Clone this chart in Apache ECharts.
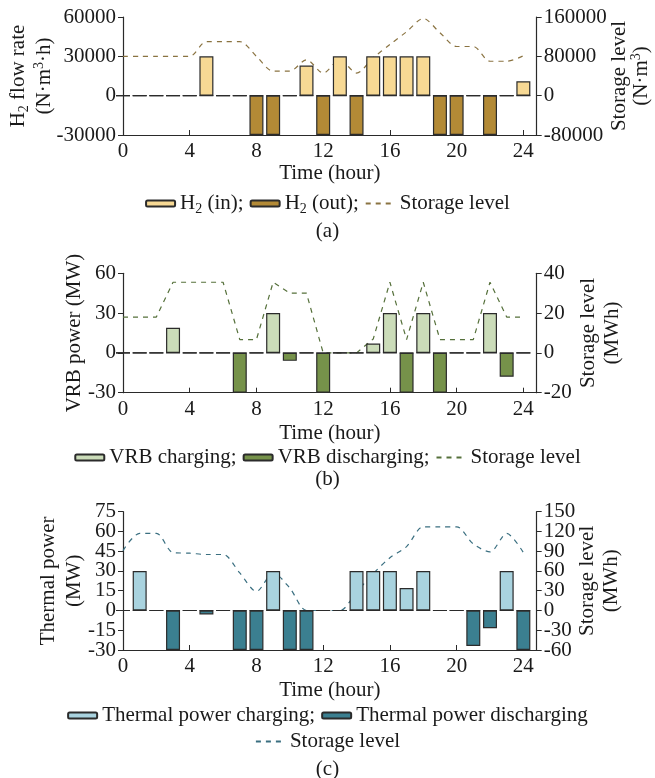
<!DOCTYPE html>
<html>
<head>
<meta charset="utf-8">
<script src="https://cdn.jsdelivr.net/npm/echarts@6/dist/echarts.min.js"></script>
<style>
  html, body { margin: 0; padding: 0; background: #ffffff; }
  #chart { width: 655px; height: 778px; }
</style>
</head>
<body>
<div id="chart"></div>
<script>
// Hour of day for each dispatch interval
const hours = [0, 1, 2, 3, 4, 5, 6, 7, 8, 9, 10, 11, 12, 13, 14, 15, 16, 17, 18, 19, 20, 21, 22, 23, 24];
const hourTicks = [0, 4, 8, 12, 16, 20, 24];

// (a) hydrogen storage: flow rate (N·m3·h) and storage level (N·m3)
const h2In    = [0, 0, 0, 0, 0, 30000, 0, 0, 0, 0, 0, 23000, 0, 30000, 0, 30000, 30000, 30000, 30000, 0, 0, 0, 0, 0, 11000];
const h2Out   = [0, 0, 0, 0, 0, 0, 0, 0, -30000, -30000, 0, 0, -30000, 0, -30000, 0, 0, 0, 0, -30000, -30000, 0, -30000, 0, 0];
const h2Level = [80000, 80000, 80000, 80000, 80000, 110000, 110000, 110000, 80000, 50000, 50000, 73000, 46000, 73000, 46000, 77000, 104000, 130000, 157000, 128000, 100000, 100000, 70000, 70000, 81000];

// (b) vanadium redox battery: power (MW) and storage level (MWh)
const vrbCharge    = [0, 0, 0, 19, 0, 0, 0, 0, 0, 30, 0, 0, 0, 0, 0, 7, 30, 0, 30, 0, 0, 0, 30, 0, 0];
const vrbDischarge = [0, 0, 0, 0, 0, 0, 0, -30, 0, 0, -6, 0, -30, 0, 0, 0, 0, -30, 0, -30, 0, 0, 0, -18, 0];
const vrbLevel     = [18, 18, 18, 35.5, 35.5, 35.5, 35.5, 6.7, 6.7, 35.5, 30, 30, 0, 0, 0, 7, 35.5, 6.7, 35.5, 6.7, 6.7, 6.7, 35.5, 18, 18];

// (c) thermal storage: power (MW) and storage level (MWh)
const thCharge    = [0, 30, 0, 0, 0, 0, 0, 0, 0, 30, 0, 0, 0, 0, 30, 30, 30, 17, 30, 0, 0, 0, 0, 30, 0];
const thDischarge = [0, 0, 0, -30, 0, -3, 0, -30, -30, 0, -30, -30, 0, 0, 0, 0, 0, 0, 0, 0, 0, -27, -13.5, 0, -30];
const thLevel     = [91, 117, 117, 88, 87, 85, 85, 57, 29, 57, 34, 0, 0, 0, 28, 56, 80, 97, 127, 127, 127, 101, 89, 117, 88];

// Tick labels of panel (c), split into two interleaved sets so that the
// densely packed labels are all kept by the axis label layout
const thPowerTicksA = [-30, 0, 30, 60];
const thPowerTicksB = [-15, 15, 45, 75];
const thLevelTicksA = [-60, 0, 60, 120];
const thLevelTicksB = [-30, 30, 90, 150];

const FONT = 'Liberation Serif';
const INK = '#1a1a1a';
const FS = 21;
const AXIS_COLOR = '#2a2a2a';
const BORDER = '#2b2b2b';

const rich = {
  sub: { fontFamily: FONT, fontSize: 14, color: INK, padding: [12, 0, 0, 0] },
  sup: { fontFamily: FONT, fontSize: 14, color: INK, padding: [0, 0, 10, 0] }
};

const pairs = (vals) => hours.map((h, i) => [h, vals[i]]);

function xAxis(gridIndex, nameGap) {
  return {
    type: 'value', gridIndex, min: 0, max: 24.8, interval: 4,
    name: 'Time (hour)', nameLocation: 'middle', nameGap, nameMoveOverlap: false,
    nameTextStyle: { fontFamily: FONT, fontSize: FS, color: INK },
    axisLine: { show: true, onZero: false, lineStyle: { color: AXIS_COLOR, width: 1.2 } },
    axisTick: { show: true, inside: true, length: 5, lineStyle: { color: AXIS_COLOR, width: 1 } },
    axisLabel: {
      fontFamily: FONT, fontSize: FS, color: INK, margin: 6, hideOverlap: false,
      formatter: (v) => (hourTicks.indexOf(v) >= 0 ? String(v) : '')
    },
    splitLine: { show: false }
  };
}

function yAxis(gridIndex, position, min, max, interval, name, nameGap, lineHeight, labelSet) {
  return {
    type: 'value', gridIndex, position, min, max, interval,
    name, nameLocation: 'middle', nameGap, nameRotate: 90, nameMoveOverlap: false,
    nameTextStyle: { fontFamily: FONT, fontSize: FS, color: INK, lineHeight, rich },
    axisLine: { show: true, onZero: false, lineStyle: { color: AXIS_COLOR, width: 1.2 } },
    axisTick: { show: true, inside: false, length: 5, lineStyle: { color: AXIS_COLOR, width: 1 } },
    axisLabel: {
      fontFamily: FONT, fontSize: FS, color: INK, margin: 7,
      showMinLabel: true, showMaxLabel: true, hideOverlap: false,
      formatter: (v) => (!labelSet || labelSet.indexOf(v) >= 0 ? String(v) : '')
    },
    splitLine: { show: false }
  };
}

// Label-only companion axis sharing the scale of a main axis
function yLabels(gridIndex, position, min, max, interval, labelSet) {
  return {
    type: 'value', gridIndex, position, min, max, interval,
    axisLine: { show: false, onZero: false },
    axisTick: { show: false },
    axisLabel: {
      fontFamily: FONT, fontSize: FS, color: INK, margin: 7,
      showMinLabel: true, showMaxLabel: true, hideOverlap: false,
      formatter: (v) => (labelSet.indexOf(v) >= 0 ? String(v) : '')
    },
    splitLine: { show: false }
  };
}

function bars(name, vals, color, xIdx, yIdx) {
  return {
    name, type: 'bar', xAxisIndex: xIdx, yAxisIndex: yIdx,
    data: pairs(vals), barWidth: 14, barGap: '-100%', clip: true, z: 3,
    itemStyle: { color, borderColor: BORDER, borderWidth: 1.2 },
    emphasis: { disabled: true }
  };
}

function level(name, vals, color, xIdx, yIdx, smooth) {
  return {
    name, type: 'line', xAxisIndex: xIdx, yAxisIndex: yIdx,
    data: pairs(vals), smooth, symbol: 'none', showSymbol: false, z: 1,
    lineStyle: { color, width: 1.2, type: [5, 5] },
    itemStyle: { color },
    emphasis: { disabled: true }
  };
}

const legendText = {
  h2In: 'H{sub|2} (in);',
  h2Out: 'H{sub|2} (out);',
  levelA: 'Storage level',
  vrbCh: 'VRB charging;',
  vrbDis: 'VRB discharging;',
  levelB: 'Storage level',
  thCh: 'Thermal power charging;',
  thDis: 'Thermal power discharging',
  levelC: 'Storage level'
};

// Line entries in the legends show only the dashed stroke, no marker
const lineEntry = (name) => ({ name, itemStyle: { opacity: 0 } });

function legend(data, top) {
  return {
    data, top, left: 'center', orient: 'horizontal',
    itemWidth: 29, itemHeight: 6, itemGap: 6,
    selectedMode: false,
    formatter: (n) => legendText[n],
    textStyle: { fontFamily: FONT, fontSize: FS, color: INK, rich }
  };
}

const panelTitle = (text, top) => ({
  text, top, left: 'center',
  textStyle: { fontFamily: FONT, fontSize: FS, fontWeight: 'normal', color: INK }
});

const gridBox = (top, height) => ({
  left: 123, right: 118.3, top, height,
  containLabel: false, outerBoundsMode: 'none'
});

const chart = echarts.init(document.getElementById('chart'), null, { renderer: 'canvas' });
chart.setOption({
  animation: false,
  backgroundColor: '#ffffff',
  title: [panelTitle('(a)', 216), panelTitle('(b)', 464), panelTitle('(c)', 754)],
  legend: [
    legend(['h2In', 'h2Out', lineEntry('levelA')], 188),
    legend(['vrbCh', 'vrbDis', lineEntry('levelB')], 442),
    legend(['thCh', 'thDis'], 700),
    legend([lineEntry('levelC')], 726)
  ],
  grid: [gridBox(17, 118), gridBox(273.3, 119.4), gridBox(511.7, 138.3)],
  xAxis: [xAxis(0, 28), xAxis(1, 30), xAxis(2, 30)],
  yAxis: [
    yAxis(0, 'left', -30000, 60000, 30000, 'H{sub|2} flow rate\n(N·m{sup|3}·h)', 66, 26),
    yAxis(0, 'right', -80000, 160000, 80000, 'Storage level\n(N·m{sup|3})', 72, 22),
    yAxis(1, 'left', -30, 60, 30, 'VRB power (MW)', 37, 24),
    yAxis(1, 'right', -20, 40, 20, 'Storage level\n(MWh)', 40, 24),
    yAxis(2, 'left', -30, 75, 15, 'Thermal power\n(MW)', 36, 26, thPowerTicksA),
    yAxis(2, 'right', -60, 150, 30, 'Storage level\n(MWh)', 39, 24, thLevelTicksA),
    yLabels(2, 'left', -30, 75, 15, thPowerTicksB),
    yLabels(2, 'right', -60, 150, 30, thLevelTicksB)
  ],
  series: [
    level('levelA', h2Level, '#8a7341', 0, 1, 0.3),
    bars('h2In', h2In, '#f7d994', 0, 0),
    bars('h2Out', h2Out, '#b38a36', 0, 0),

    level('levelB', vrbLevel, '#55703a', 1, 3, false),
    bars('vrbCh', vrbCharge, '#cbdcb9', 1, 2),
    bars('vrbDis', vrbDischarge, '#76924a', 1, 2),

    level('levelC', thLevel, '#3a6f80', 2, 5, 0.3),
    bars('thCh', thCharge, '#a9d3df', 2, 4),
    bars('thDis', thDischarge, '#3b7f90', 2, 4)
  ]
});
</script>
</body>
</html>
